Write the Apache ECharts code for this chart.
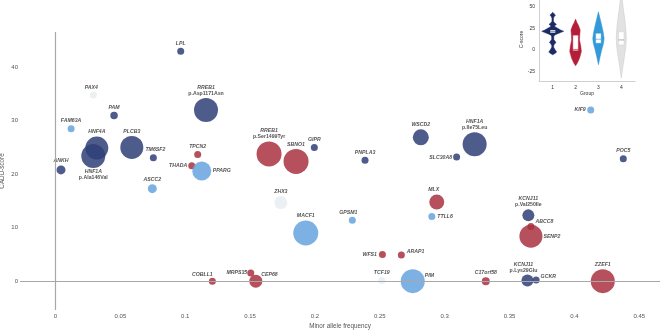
<!DOCTYPE html>
<html><head><meta charset="utf-8">
<script src="https://cdn.jsdelivr.net/npm/echarts@6/dist/echarts.min.js"></script>
<style>html,body{margin:0;padding:0;background:#fff}#c{width:660px;height:334px}</style>
</head><body><div id="c"></div>
<script>
// ---------------- DATA ----------------
const genes = ['LPL','PAX4','PAM','FAM63A','HNF4A','HNF1A','PLCB3','TM6SF2','ANKH','ASCC2',
  'THADA','PPARG','TPCN2','RREB1','RREB1','SBNO1','GIPR','PNPLA3','WSCD2','SLC30A8',
  'HNF1A','KIF9','POC5','ZHX3','MACF1','GPSM1','MLX','TTLL6','WFS1','ARAP1',
  'TCF19','PIM','COBLL1','MRPS35','CEP68','C17orf58','KCNJ11','GCKR','ZZEF1','KCNJ11',
  'ABCC8','SENP2'];
const variants = ['','','','','','p.Ala146Val','','','','',
  '','','','p.Asp1171Asn','p.Ser1499Tyr','','','','','',
  'p.Ile75Leu','','','','','','','','','',
  '','','','','','','p.Lys29Glu','','','p.Val250Ile',
  '',''];
const maf = [0.0965,0.0291,0.0451,0.0120,0.0318,0.0291,0.0588,0.0754,0.0042,0.0746,
  0.1050,0.1127,0.1096,0.1160,0.1646,0.1854,0.1995,0.2386,0.2816,0.3092,
  0.3231,0.4126,0.4377,0.1737,0.1929,0.2288,0.2939,0.2901,0.2520,0.2666,
  0.2515,0.2754,0.1209,0.1505,0.1544,0.3317,0.3638,0.3705,0.4219,0.3645,
  0.3665,0.3665];
const cadd = [43.0,34.8,31.0,28.5,24.9,23.4,25.0,23.1,20.8,17.3,
  21.6,20.6,23.7,32.0,23.8,22.4,25.0,22.6,26.9,23.2,
  25.6,32.0,22.9,14.7,9.0,11.4,14.8,12.1,5.0,4.9,
  0.1,0,0,1.5,0,0,0.1,0.2,0,12.3,
  10.2,8.4];
const group = [1,4,1,3,1,1,1,1,1,3,
  2,3,2,1,2,2,1,1,1,1,
  1,3,1,4,3,3,2,3,2,2,
  4,3,2,2,2,2,1,1,2,1,
  2,2];
const bubbleSize = [7,7,7.5,7,23,24,23,7,9,9,
  7,19,7,24,25,25,7,7,16,7,
  24,7,7,13,25,7,15,7,7,7,
  7,24,7,7,13,8,12,7,24,12,
  7,23];
const xTicks = [0,0.05,0.1,0.15,0.2,0.25,0.3,0.35,0.4,0.45];
const yTicks = [0,10,20,30,40];

// inset violin plot
const groupTicks = [1,2,3,4];
const insetYTicks = [-25,0,25,50];
const violin1 = [[43.5,0],[41.5,0.14],[40.2,0.25],[38.5,0.14],[36.5,0.07],[33,0.07],[31,0.18],[29.5,0.34],[28,0.18],[26.8,0.2],[25,0.45],[23,0.72],[21.5,1.0],[20,0.72],[18.5,0.4],[17,0.16],[15.3,0.1],[12,0.1],[10,0.22],[8.4,0.3],[7,0.18],[5,0.09],[3.1,0.09],[0.5,0.2],[-2.6,0.36],[-4.2,0.2],[-5.7,0]];
const violin2 = [[35.6,0],[31,0.14],[28.7,0.25],[23,0.42],[17.2,0.38],[11.5,0.36],[3.8,0.48],[-2,0.53],[-9.6,0.36],[-15.3,0.16],[-18.4,0]];
const violin3 = [[44,0],[36.4,0.15],[28.7,0.29],[21,0.43],[13.4,0.52],[7.7,0.47],[0,0.3],[-7.7,0.16],[-17.2,0]];
const violin4 = [[60,0],[57.5,0.09],[46,0.2],[34.5,0.33],[23,0.42],[13.4,0.46],[3.8,0.42],[-7.7,0.29],[-19,0.15],[-32.5,0]];
const boxQ1 = [19.5,-1,7.7,5.7];
const boxMedian = [21,0.5,12.3,11.5];
const boxQ3 = [23,17,19.2,21];

// ---------------- STYLE ----------------
const FONT = 'Liberation Sans, Arial, sans-serif';
const bubbleColors = {1:'#2f3f78',2:'#a8313f',3:'#67a3de',4:'#e8edf2'};
const violinColors = ['#1d2b64','#b41e38','#3399d8','#e2e2e2'];
const violinStroke = ['#1d2b64','#b41e38','#3399d8','#c8c8c8'];
const labelLayout = {
  'HNF1A|p.Ala146Val':{position:'bottom',distance:1},
  'THADA':{position:'left',distance:1},
  'PPARG':{position:'right',distance:1.5},
  'SLC30A8':{position:'left',distance:1},
  'KIF9':{position:'left',distance:1.5},
  'WFS1':{position:'left',distance:2},
  'TTLL6':{position:'right',distance:2},
  'ARAP1':{position:'right',distance:2,offset:[0,-3]},
  'PIM':{position:'right',distance:0,offset:[0,-6]},
  'CEP68':{position:'right',distance:-1,offset:[0,-6.5]},
  'MRPS35':{position:'left',distance:0,offset:[0,-1]},
  'COBLL1':{position:'top',distance:1,offset:[-10,1]},
  'GCKR':{position:'right',distance:1,offset:[0,-3]},
  'ABCC8':{position:'right',distance:1,offset:[0,-5]},
  'SENP2':{position:'right',distance:1},
  'KCNJ11|p.Lys29Glu':{position:'top',distance:1.5,offset:[-4,0]},
  'GPSM1':{position:'top',distance:1.5,offset:[-4,0]},
  'MLX':{position:'top',distance:1.5,offset:[-3,0]},
  'TM6SF2':{position:'top',distance:1.5,offset:[2,0]},
  'PAX4':{position:'top',distance:1.5,offset:[-2,0]}
};
const rich = {
  g:{fontStyle:'italic',fontWeight:'bold',fontSize:5.2,color:'#333',lineHeight:6,fontFamily:FONT},
  p:{fontWeight:'bold',fontSize:5.2,color:'#333',lineHeight:6,fontFamily:FONT}
};

const bubbleSeries = [1,2,3,4].map(g => {
  const data = [];
  genes.forEach((name,i) => {
    if (group[i] !== g) return;
    const key = variants[i] ? name + '|' + variants[i] : name;
    const lay = labelLayout[key] || {position:'top',distance:1.5};
    data.push({
      value:[maf[i],cadd[i],bubbleSize[i]],
      symbolSize:bubbleSize[i],
      label:Object.assign({show:true,rich:rich,
        formatter: variants[i] ? '{g|'+name+'}\n{p|'+variants[i]+'}' : '{g|'+name+'}'}, lay)
    });
  });
  return {type:'scatter',xAxisIndex:0,yAxisIndex:0,z:3,data:data,
    itemStyle:{color:bubbleColors[g],opacity:0.85}, emphasis:{disabled:true}};
});

const violins = [violin1,violin2,violin3,violin4];
const W = 0.48;
const violinSeries = {
  type:'custom', xAxisIndex:1, yAxisIndex:1, z:3, clip:false,
  data: groupTicks.map((g,i)=>[g,boxMedian[i]]),
  renderItem:(params,api)=>{
    const i = params.dataIndex, g = groupTicks[i], prof = violins[i];
    const pts = [];
    prof.forEach(p=>pts.push(api.coord([g - p[1]*W, p[0]])));
    for (let k=prof.length-1;k>=0;k--) pts.push(api.coord([g + prof[k][1]*W, prof[k][0]]));
    const a = api.coord([g-0.12, boxQ3[i]]), b = api.coord([g+0.12, boxQ1[i]]);
    const m1 = api.coord([g-0.12, boxMedian[i]]), m2 = api.coord([g+0.12, boxMedian[i]]);
    return {type:'group',children:[
      {type:'polygon',shape:{points:pts},style:{fill:violinColors[i],stroke:violinStroke[i],lineWidth:0.5}},
      {type:'rect',shape:{x:a[0],y:a[1],width:b[0]-a[0],height:b[1]-a[1]},style:{fill:'#fff',stroke:violinStroke[i],lineWidth:0.4}},
      {type:'line',shape:{x1:m1[0],y1:m1[1],x2:m2[0],y2:m2[1]},style:{stroke:i===3?'#777':violinStroke[i],lineWidth:0.6}}
    ]};
  }
};

const axisLabelMain = {color:'#555',fontSize:6,fontFamily:FONT};
const option = {
  animation:false,
  backgroundColor:'#fff',
  grid:[
    {left:20,right:0,top:32,bottom:24,containLabel:false,outerBoundsMode:'none'},
    {left:539,top:-2,width:96,height:83,containLabel:false,outerBoundsMode:'none'}
  ],
  xAxis:[
    {type:'value',gridIndex:0,min:-0.0274,max:0.466,
      axisLine:{show:false},axisTick:{show:false},splitLine:{show:false},
      axisLabel:Object.assign({customValues:xTicks,margin:3},axisLabelMain),
      name:'Minor allele frequency',nameLocation:'middle',nameGap:13,nameMoveOverlap:false,
      nameTextStyle:{color:'#555',fontSize:6.3,fontFamily:FONT}},
    {type:'value',gridIndex:1,min:0.4,max:4.6,
      axisLine:{show:true,onZero:false,lineStyle:{color:'#cfcfcf',width:1}},axisTick:{show:false},splitLine:{show:false},
      axisLabel:{customValues:groupTicks,margin:4,color:'#333',fontSize:5,fontFamily:FONT},
      name:'Group',nameLocation:'middle',nameGap:10,nameMoveOverlap:false,
      nameTextStyle:{color:'#333',fontSize:5,fontFamily:FONT}}
  ],
  yAxis:[
    {type:'value',gridIndex:0,min:-5.4,max:46.6,
      axisLine:{show:false},axisTick:{show:false},splitLine:{show:false},
      axisLabel:Object.assign({customValues:yTicks,margin:2},axisLabelMain),
      name:'CADD-score',nameLocation:'middle',nameRotate:90,nameGap:15,nameMoveOverlap:false,
      nameTextStyle:{color:'#555',fontSize:6.3,fontFamily:FONT}},
    {type:'value',gridIndex:1,min:-36,max:60,
      axisLine:{show:true,onZero:false,lineStyle:{color:'#cfcfcf',width:1}},axisTick:{show:false},splitLine:{show:false},
      axisLabel:{customValues:insetYTicks,margin:4,color:'#333',fontSize:5,fontFamily:FONT},
      name:'C-score',nameLocation:'middle',nameRotate:90,nameGap:15,nameMoveOverlap:false,
      nameTextStyle:{color:'#333',fontSize:5,fontFamily:FONT}}
  ],
  series:[
    {type:'scatter',xAxisIndex:0,yAxisIndex:0,z:1,data:[],silent:true,
      markLine:{silent:true,symbol:'none',label:{show:false},animation:false,
        lineStyle:{color:'#a8a8a8',width:1.2,type:'solid'},
        data:[{xAxis:0},{yAxis:0}]}},
    ...bubbleSeries,
    violinSeries
  ]
};
const chart = echarts.init(document.getElementById('c'),null,{renderer:'canvas'});
chart.setOption(option);
</script>
</body></html>
